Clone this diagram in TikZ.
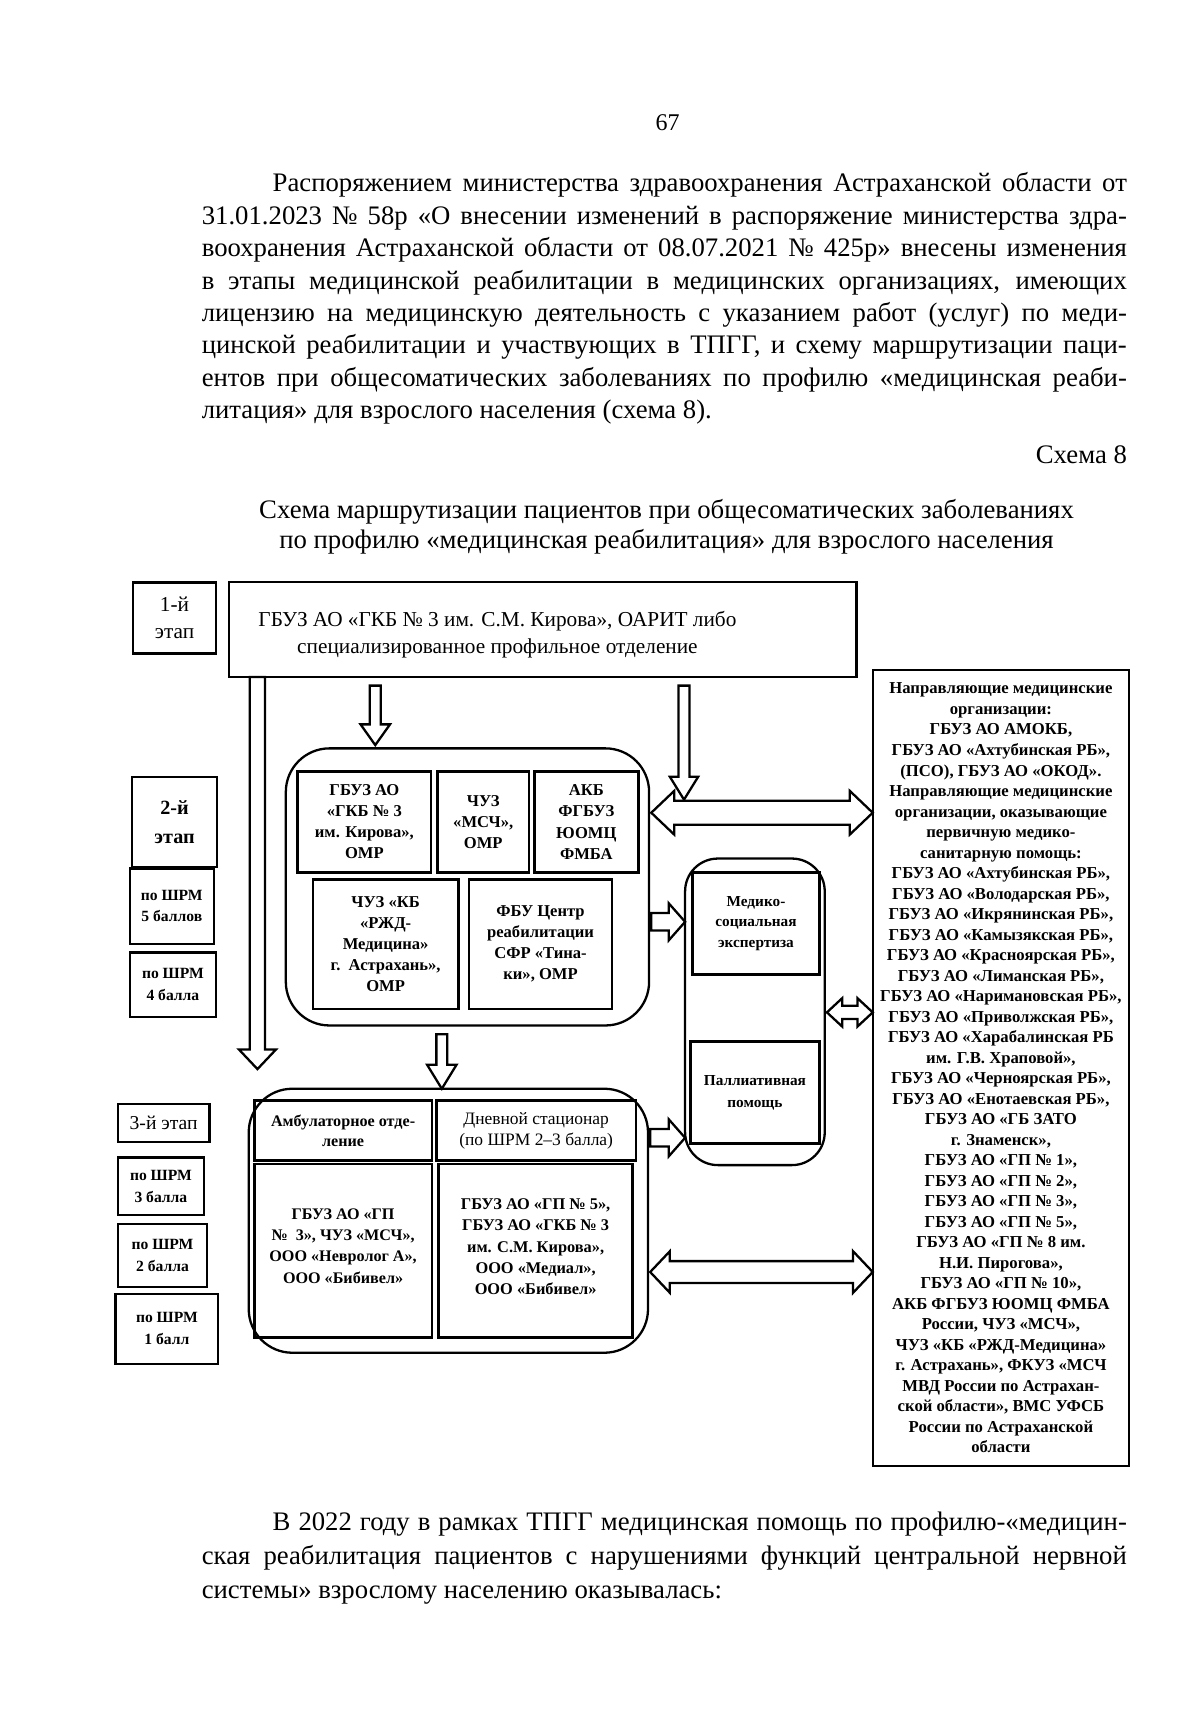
\documentclass[tikz,border=0pt]{standalone}
\usepackage{fontspec}
\setmainfont{Liberation Serif}
\usetikzlibrary{calc}
\newcommand\fs[2]{\fontsize{#1}{#2}\selectfont}
\newcommand\blkdown[5]{\draw[blk] let \p1=#1, \p2=#2 in (\x2-#3,\y1) -- (\x2-#3,\y2+#5) -- (\x2-#4,\y2+#5) -- (\x2,\y2) -- (\x2+#4,\y2+#5) -- (\x2+#3,\y2+#5) -- (\x2+#3,\y1) -- cycle;}
\newcommand\blkright[5]{\draw[blk] let \p1=#1, \p2=#2 in (\x1,\y2+#3) -- (\x2-#5,\y2+#3) -- (\x2-#5,\y2+#4) -- (\x2,\y2) -- (\x2-#5,\y2-#4) -- (\x2-#5,\y2-#3) -- (\x1,\y2-#3) -- cycle;}
\newcommand\blkdbl[5]{\draw[blk] let \p1=#1, \p2=#2 in (\x1,\y2) -- (\x1+#5,\y2+#4) -- (\x1+#5,\y2+#3) -- (\x2-#5,\y2+#3) -- (\x2-#5,\y2+#4) -- (\x2,\y2) -- (\x2-#5,\y2-#4) -- (\x2-#5,\y2-#3) -- (\x1+#5,\y2-#3) -- (\x1+#5,\y2-#4) -- cycle;}
\begin{document}
\begin{tikzpicture}[x=1pt,y=-1pt,
  box/.style={draw, line width=2.1pt, align=center, inner sep=0pt, outer sep=0pt},
  ibox/.style={box, line width=2.5pt},
  rbox/.style={draw, line width=2.1pt, inner sep=0pt, outer sep=0pt},
  blk/.style={draw, line width=2.1pt, fill=white, line join=miter},
  txt/.style={inner sep=0pt, outer sep=0pt},
  sb/.style={font=\fs{14.3}{20}\bfseries},
  ib/.style={font=\fs{15.2}{19.3}\bfseries}]
\useasboundingbox (0,0) rectangle (1100,1575.75);
\fill[white] (0,0) rectangle (1100,1575.75);

% page text
\node[txt, anchor=base] (pnum) at (612,120) {\fs{22}{26}67};
\node[txt, anchor=base west] (para) at (185,176) {\parbox[t]{848pt}{\fs{24.5}{29.7}\noindent
\hspace*{65pt}\makebox[783pt][s]{Распоряжением министерства здравоохранения Астраханской области от}\\
\makebox[848pt][s]{31.01.2023 № 58р «О внесении изменений в распоряжение министерства здра-}\\
\makebox[848pt][s]{воохранения Астраханской области от 08.07.2021 № 425р» внесены изменения}\\
\makebox[848pt][s]{в этапы медицинской реабилитации в медицинских организациях, имеющих}\\
\makebox[848pt][s]{лицензию на медицинскую деятельность с указанием работ (услуг) по меди-}\\
\makebox[848pt][s]{цинской реабилитации и участвующих в ТПГГ, и схему маршрутизации паци-}\\
\makebox[848pt][s]{ентов при общесоматических заболеваниях по профилю «медицинская реаби-}\\
литация» для взрослого населения (схема 8).}};
\node[txt, anchor=base east] (schn) at (1033,425) {\fs{24.5}{29.7}Схема 8};
\node[txt, anchor=base, align=center, font=\fs{24.5}{28}] (title) at (611,503) {Схема маршрутизации пациентов при общесоматических заболеваниях\\по профилю «медицинская реабилитация» для взрослого населения};
\node[txt, anchor=base west] (para2) at (185,1403) {\parbox[t]{848pt}{\fs{24.5}{31}\noindent
\hspace*{65pt}\makebox[783pt][s]{В 2022 году в рамках ТПГГ медицинская помощь по профилю-«медицин-}\\
\makebox[848pt][s]{ская реабилитация пациентов с нарушениями функций центральной нервной}\\
системы» взрослому населению оказывалась:}};

% rounded containers
\node[rbox, rounded corners=40pt, minimum width=333pt, minimum height=254pt] (box2) at (428.5,813) {};
\node[rbox, rounded corners=40pt, minimum width=366pt, minimum height=242pt] (box3) at (411,1119) {};
\node[rbox, rounded corners=30pt, minimum width=128pt, minimum height=281pt] (box4) at (692,927.5) {};

% stage labels
\node[box, minimum width=76pt, minimum height=65pt, font=\fs{19.5}{25}] (s1) at (160,566.5) {1-й\\этап};
\node[box, minimum width=78pt, minimum height=83pt, font=\fs{18.5}{26}\bfseries] (s2) at (160,753.5) {2-й\\этап};
\node[box, minimum width=77pt, minimum height=69pt, sb] (s2a) at (157.5,830.5) {по ШРМ\\5 баллов};
\node[box, minimum width=79pt, minimum height=59pt, sb] (s2b) at (158.5,902.5) {по ШРМ\\4 балла};
\node[box, minimum width=84pt, minimum height=35pt, font=\fs{18}{22}] (s3) at (150,1029.5) {3-й этап};
\node[box, minimum width=79pt, minimum height=53pt, sb] (s3a) at (147.5,1087.5) {по ШРМ\\3 балла};
\node[box, minimum width=82pt, minimum height=58pt, sb] (s3b) at (149,1151) {по ШРМ\\2 балла};
\node[box, minimum width=94pt, minimum height=64pt, sb] (s3c) at (153,1218) {по ШРМ\\1 балл};

% first stage
\node[box, minimum width=575pt, minimum height=87pt] (top) at (497.5,577) {};
\node[txt, align=center, font=\fs{19.5}{25}] (topt) at (456,582) {ГБУЗ АО «ГКБ № 3 им. С.М. Кирова», ОАРИТ либо\\специализированное профильное отделение};

% second stage inner boxes
\node[ibox, minimum width=122pt, minimum height=93pt, ib] (A) at (334,753.5) {ГБУЗ АО\\«ГКБ № 3\\им. Кирова»,\\ОМР};
\node[ibox, minimum width=84pt, minimum height=93pt, ib] (B) at (443,753.5) {ЧУЗ\\«МСЧ»,\\ОМР};
\node[ibox, minimum width=95pt, minimum height=93pt, ib] (C) at (537.5,753.5) {АКБ\\ФГБУЗ\\ЮОМЦ\\ФМБА};
\node[ibox, minimum width=133pt, minimum height=119pt, ib] (D) at (353.5,865.5) {ЧУЗ «КБ\\«РЖД-\\Медицина»\\г.~~Астрахань»,\\ОМР};
\node[ibox, minimum width=131pt, minimum height=119pt, ib] (E) at (495.5,865.5) {ФБУ Центр\\реабилитации\\СФР «Тина-\\ки», ОМР};

% third stage inner boxes
\node[ibox, minimum width=163pt, minimum height=55pt, font=\fs{14.8}{19}\bfseries] (amb) at (314.5,1036.5) {Амбулаторное отде-\\ление};
\node[ibox, minimum width=183pt, minimum height=55pt, font=\fs{16}{19}] (day) at (491.5,1036.5) {Дневной стационар\\(по ШРМ 2–3 балла)};
\node[ibox, minimum width=163pt, minimum height=159pt] (ambo) at (314.5,1146.5) {};
\node[txt, align=center, font=\fs{14.8}{19.5}\bfseries] (ambot) at (314.5,1142) {ГБУЗ АО «ГП\\№~~3», ЧУЗ «МСЧ»,\\ООО «Невролог А»,\\ООО «Бибивел»};
\node[ibox, minimum width=178pt, minimum height=159pt] (dayo) at (491,1146.5) {};
\node[txt, align=center, font=\fs{15}{19.5}\bfseries] (dayot) at (491,1143) {ГБУЗ АО «ГП № 5»,\\ГБУЗ АО «ГКБ № 3\\им. С.М. Кирова»,\\ООО «Медиал»,\\ООО «Бибивел»};

% MSE / palliative
\node[ibox, minimum width=116pt, minimum height=93pt, font=\fs{14}{19}\bfseries] (mse) at (693,846.5) {Медико-\\социальная\\экспертиза};
\node[ibox, minimum width=118pt, minimum height=93pt, font=\fs{14}{20}\bfseries] (pal) at (692,1001.5) {Паллиативная\\помощь};

% right box
\node[box, minimum width=235pt, minimum height=730pt, font=\fs{15.3}{18.8}\bfseries] (right) at (917.5,979) {Направляющие медицинские\\организации:\\ГБУЗ АО АМОКБ,\\ГБУЗ АО «Ахтубинская РБ»,\\(ПСО), ГБУЗ АО «ОКОД».\\Направляющие медицинские\\организации, оказывающие\\первичную медико-\\санитарную помощь:\\ГБУЗ АО «Ахтубинская РБ»,\\ГБУЗ АО «Володарская РБ»,\\ГБУЗ АО «Икрянинская РБ»,\\ГБУЗ АО «Камызякская РБ»,\\ГБУЗ АО «Красноярская РБ»,\\ГБУЗ АО «Лиманская РБ»,\\ГБУЗ АО «Наримановская РБ»,\\ГБУЗ АО «Приволжская РБ»,\\ГБУЗ АО «Харабалинская РБ\\им. Г.В. Храповой»,\\ГБУЗ АО «Черноярская РБ»,\\ГБУЗ АО «Енотаевская РБ»,\\ГБУЗ АО «ГБ ЗАТО\\г. Знаменск»,\\ГБУЗ АО «ГП № 1»,\\ГБУЗ АО «ГП № 2»,\\ГБУЗ АО «ГП № 3»,\\ГБУЗ АО «ГП № 5»,\\ГБУЗ АО «ГП № 8 им.\\Н.И. Пирогова»,\\ГБУЗ АО «ГП № 10»,\\АКБ ФГБУЗ ЮОМЦ ФМБА\\России, ЧУЗ «МСЧ»,\\ЧУЗ «КБ «РЖД-Медицина»\\г. Астрахань», ФКУЗ «МСЧ\\МВД России по Астрахан-\\ской области», ВМС УФСБ\\России по Астраханской\\области};

% arrows
\coordinate (ltip) at (236,980);
\blkdown{($(top.south west)+(26,0)$)}{(ltip)}{7pt}{17pt}{18pt}
\blkdown{($(top.south west)+(134,8)$)}{($(box2.north west)+(82,-3)$)}{5pt}{13.5pt}{19pt}
\blkdown{($(top.south west)+(417,8)$)}{($(right.north west)+(-173,119)$)}{5pt}{13pt}{21pt}
\blkdown{($(box2.south west)+(143,8)$)}{($(box3.north west)+(177,0)$)}{5pt}{13.5pt}{22pt}
\blkright{($(box2.south east)+(2,-95)$)}{($(box4.north west)+(0,58)$)}{8pt}{17pt}{15pt}
\blkright{($(box3.north east)+(2,45)$)}{($(box4.south west)+(0,-25)$)}{8pt}{17pt}{15pt}
\blkdbl{($(box2.north east)+(2,59)$)}{($(right.north west)+(0,131)$)}{11pt}{20pt}{21pt}
\blkdbl{($(box4.east)+(2,0)$)}{($(right.west)+(0,-51)$)}{6pt}{13pt}{14pt}
\blkdbl{($(box3.east)+(2,47)$)}{($(right.west)+(0,187)$)}{10pt}{19pt}{18pt}
\end{tikzpicture}
\end{document}
